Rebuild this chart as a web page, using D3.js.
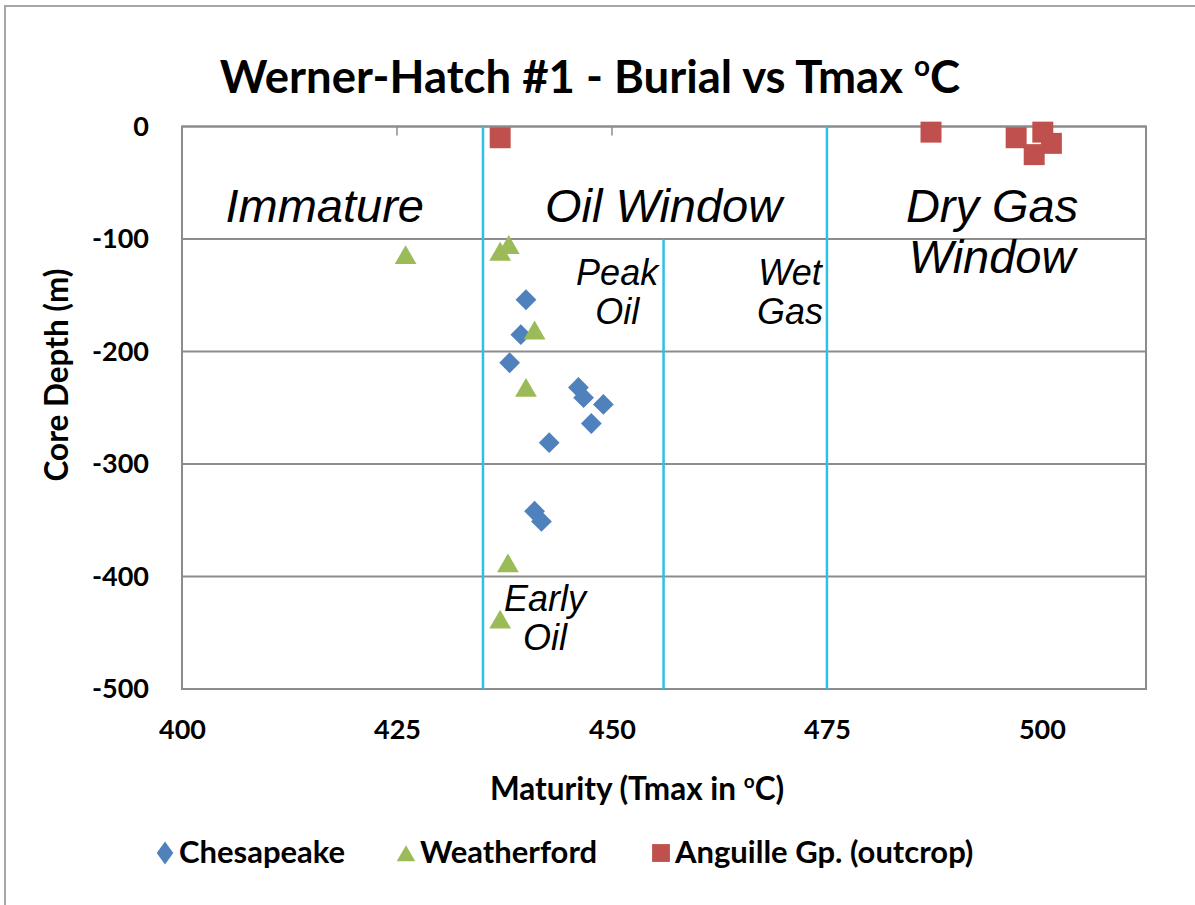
<!DOCTYPE html>
<html>
<head>
<meta charset="utf-8">
<script src="https://cdn.jsdelivr.net/npm/d3@7"></script>
<style>
    body { margin: 0; background: #fff; }
    svg { display: block; }
</style>
</head>
<body>
<svg id="chart" width="1195" height="905"></svg>
<script>
// values
const chesapeakeTmax = [440, 439.4, 438.1, 446.1, 446.7, 449, 447.6, 442.7, 441, 441.8];
const chesapeakeDepth = [-154, -185, -210, -232, -241, -247, -264, -281, -342, -351];

const weatherfordTmax = [426, 437, 438, 441, 440, 437.9, 437];
const weatherfordDepth = [-114, -111, -105, -181, -232, -388, -438];

const anguilleTmax = [437, 487.1, 497, 500.1, 501.1, 499.1];
const anguilleDepth = [-10, -5, -10, -5, -15, -25];

const xTicks = [400, 425, 450, 475, 500];
const yTicks = [0, -100, -200, -300, -400, -500];

const boundaries = [
    { tmax: 435, from: 0 },
    { tmax: 456, from: -100 },
    { tmax: 475, from: 0 }
];

const zoneLabels = [
    { lines: ["Immature"], tmax: 416.6, depth: -84.8, big: true },
    { lines: ["Oil Window"], tmax: 456, depth: -84.8, big: true },
    { lines: ["Dry Gas", "Window"], tmax: 494.2, depth: -84.8, big: true },
    { lines: ["Peak", "Oil"], tmax: 450.6, depth: -140.8, big: false },
    { lines: ["Wet", "Gas"], tmax: 470.7, depth: -140.8, big: false },
    { lines: ["Early", "Oil"], tmax: 442.2, depth: -431, big: false }
];

const series = [
    { name: "Chesapeake", tmax: chesapeakeTmax, depth: chesapeakeDepth, color: "#4F81BD", kind: "diamond" },
    { name: "Weatherford", tmax: weatherfordTmax, depth: weatherfordDepth, color: "#9BBB59", kind: "triangle" },
    { name: "Anguille Gp. (outcrop)", tmax: anguilleTmax, depth: anguilleDepth, color: "#C0504D", kind: "square" }
];

const marker = {
    diamond: { type: d3.symbolDiamond2, size: 275, dy: 0 },
    triangle: { type: d3.symbolTriangle2, size: 340, dy: 3 },
    square: { type: d3.symbolSquare2, size: 560, dy: 0 }
};

const svg = d3.select("#chart");
const font = "Lato, 'Open Sans', sans-serif";
const italic = "'Liberation Sans', Arial, sans-serif";

const margin = { left: 182, right: 1146, top: 126.5, bottom: 689 };

const x = d3.scaleLinear([400, 512.1], [margin.left, margin.right]);
const y = d3.scaleLinear([0, -500], [margin.top, margin.bottom]);

// outer frame (only top and left visible in the crop)
svg.append("path")
    .attr("d", `M5,905 V6 H1195`)
    .attr("fill", "none")
    .attr("stroke", "#a6a6a6")
    .attr("stroke-width", 2);

svg.append("text")
    .attr("x", 590)
    .attr("y", 93)
    .attr("text-anchor", "middle")
    .attr("font-family", font)
    .attr("font-weight", 700)
    .attr("font-size", 45.5)
    .html(`Werner-Hatch #1 - Burial vs Tmax <tspan font-size="28" dy="-17">o</tspan><tspan dy="17">C</tspan>`);

// horizontal gridlines
svg.append("g")
    .selectAll("line")
    .data(yTicks)
    .join("line")
    .attr("x1", margin.left)
    .attr("x2", margin.right)
    .attr("y1", d => y(d))
    .attr("y2", d => y(d))
    .attr("stroke", "#8c8c8c")
    .attr("stroke-width", 2);

// plot frame
svg.append("rect")
    .attr("x", margin.left)
    .attr("y", margin.top)
    .attr("width", margin.right - margin.left)
    .attr("height", margin.bottom - margin.top)
    .attr("fill", "none")
    .attr("stroke", "#8c8c8c")
    .attr("stroke-width", 2);

// little tick marks hanging from the top edge
svg.append("g")
    .selectAll("line")
    .data(xTicks.slice(1))
    .join("line")
    .attr("x1", d => x(d))
    .attr("x2", d => x(d))
    .attr("y1", margin.top)
    .attr("y2", margin.top + 9)
    .attr("stroke", "#8c8c8c")
    .attr("stroke-width", 1.5);

// maturity boundaries
svg.append("g")
    .selectAll("line")
    .data(boundaries)
    .join("line")
    .attr("x1", d => x(d.tmax))
    .attr("x2", d => x(d.tmax))
    .attr("y1", d => y(d.from))
    .attr("y2", y(-500))
    .attr("stroke", "#2fc0e6")
    .attr("stroke-width", 2.5);

const styleTicks = g => g.selectAll("text")
    .attr("font-family", font)
    .attr("font-weight", 700)
    .attr("font-size", 27)
    .attr("fill", "#000");

// axis tick labels
const xAxis = d3.axisBottom(x).tickValues(xTicks).tickSize(0).tickPadding(0);
svg.append("g")
    .attr("transform", `translate(0, ${margin.bottom + 31})`)
    .call(xAxis)
    .call(g => g.select(".domain").remove())
    .call(styleTicks);

const yAxis = d3.axisLeft(y).tickValues(yTicks).tickSize(0).tickPadding(0)
    .tickFormat(d => String(d));
svg.append("g")
    .attr("transform", `translate(${margin.left - 33}, 0)`)
    .call(yAxis)
    .call(g => g.select(".domain").remove())
    .call(styleTicks);

svg.append("text")
    .attr("transform", "translate(68, 375) rotate(-90)")
    .attr("text-anchor", "middle")
    .attr("font-family", font)
    .attr("font-weight", 700)
    .attr("font-size", 31.5)
    .text("Core Depth (m)");

svg.append("text")
    .attr("x", 637)
    .attr("y", 800)
    .attr("text-anchor", "middle")
    .attr("font-family", font)
    .attr("font-weight", 700)
    .attr("font-size", 31.5)
    .html(`Maturity (Tmax in <tspan font-size="19" dy="-12">o</tspan><tspan dy="12">C)</tspan>`);

// zone labels
const zones = svg.append("g")
    .attr("font-family", italic)
    .attr("font-style", "italic")
    .attr("text-anchor", "middle");

zoneLabels.forEach(z => {
    const size = z.big ? 47 : 36;
    const step = z.big ? 51 : 39;
    z.lines.forEach((line, i) => {
        zones.append("text")
            .attr("x", x(z.tmax))
            .attr("y", y(z.depth) + i * step)
            .attr("font-size", size)
            .text(line);
    });
});

// markers
series.forEach(s => {
    const m = marker[s.kind];
    const pts = s.tmax.map((t, i) => [t, s.depth[i]]);
    svg.append("g")
        .selectAll("path")
        .data(pts)
        .join("path")
        .attr("transform", d => `translate(${x(d[0])}, ${y(d[1]) + m.dy})`)
        .attr("d", d3.symbol(m.type, m.size))
        .attr("fill", s.color);
});

// legend
const legendPos = [165, 406, 661];
const legend = svg.append("g");
series.forEach((s, i) => {
    const m = marker[s.kind];
    const shape = s.kind === "diamond" ? "scale(0.8, 1.1)" : "scale(0.85)";
    legend.append("path")
        .attr("transform", `translate(${legendPos[i]}, ${853 + m.dy}) ${shape}`)
        .attr("d", d3.symbol(m.type, m.size))
        .attr("fill", s.color);
    legend.append("text")
        .attr("x", legendPos[i] + 14)
        .attr("y", 863)
        .attr("font-family", font)
        .attr("font-weight", 700)
        .attr("font-size", 31)
        .text(s.name);
});
</script>
</body>
</html>
